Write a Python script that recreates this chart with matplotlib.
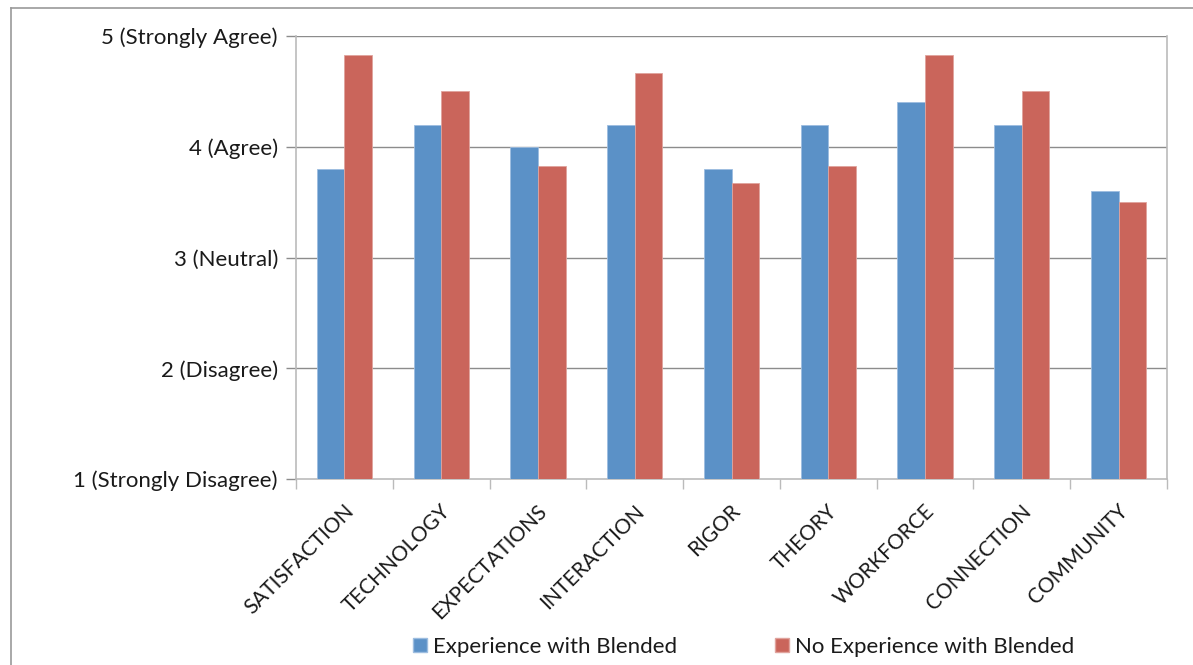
import matplotlib
matplotlib.use("Agg")
import matplotlib.pyplot as plt
import numpy as np
from matplotlib.patches import Patch
from matplotlib.lines import Line2D
from matplotlib.transforms import offset_copy

categories = ["SATISFACTION", "TECHNOLOGY", "EXPECTATIONS", "INTERACTION", "RIGOR",
              "THEORY", "WORKFORCE", "CONNECTION", "COMMUNITY"]
experience = [3.8, 4.2, 4.0, 4.2, 3.8, 4.2, 4.4, 4.2, 3.6]
no_experience = [4.83, 4.5, 3.83, 4.67, 3.67, 3.83, 4.83, 4.5, 3.5]
ytick_values = [1, 2, 3, 4, 5]
ytick_labels = ["1 (Strongly Disagree)", "2 (Disagree)", "3 (Neutral)", "4 (Agree)", "5 (Strongly Agree)"]
series_names = ["Experience with Blended", "No Experience with Blended"]

blue = "#5B91C7"
red = "#CA655B"

plt.rcParams['font.family'] = ['Lato', 'DejaVu Sans']

fig = plt.figure(figsize=(11.93, 6.65), dpi=100)
W, H = 1193, 665
ax = fig.add_axes([296 / W, 1 - 479 / H, (1167 - 296) / W, (479 - 36) / H])

x = np.arange(len(categories))
bw = 0.285
ax.bar(x - bw / 2, experience, width=bw, bottom=0, color=blue, edgecolor="#9DBDE0", linewidth=0.6, zorder=3)
ax.bar(x + bw / 2, no_experience, width=bw, bottom=0, color=red, edgecolor="#E0A39D", linewidth=0.6, zorder=3)

ax.set_xlim(-0.5, len(categories) - 0.5)
ax.set_ylim(1, 5)
ax.set_yticks(ytick_values)
ax.set_yticklabels(ytick_labels, fontsize=16, color="#1A1A1A")
for v in ytick_values[1:]:
    ax.axhline(v, color="#8C8C8C", linewidth=1.0, zorder=1)

ax.set_xticks(np.arange(len(categories) + 1) - 0.5, minor=False)
ax.set_xticklabels([])
ax.tick_params(axis='x', length=7, color="#BBBBBB", width=1)
ax.tick_params(axis='y', length=7, color="#8C8C8C", width=1, pad=6)
base = ax.get_xaxis_transform()
for i, c in enumerate(categories):
    tr = offset_copy(base, fig=fig, x=6, y=-29, units='dots')
    ax.text(i, 0, c, rotation=45, ha='right', va='center', rotation_mode='anchor',
            fontsize=15, color="#1A1A1A", transform=tr)

for s in ['left', 'bottom', 'right']:
    ax.spines[s].set_color("#BBBBBB")
    ax.spines[s].set_linewidth(1.2)
ax.spines['top'].set_visible(False)

handles = [Patch(facecolor=blue, edgecolor="#9DBDE0"), Patch(facecolor=red, edgecolor="#E0A39D")]
fig.legend(handles, series_names, loc='center', bbox_to_anchor=(744 / W, 1 - 647 / H), ncol=2,
           frameon=False, fontsize=16, handlelength=0.6, handleheight=0.6, columnspacing=4.4,
           handletextpad=0.3, labelcolor="#1A1A1A")

# outer chart border (top and left)
fig.add_artist(Line2D([11 / W, 1], [1 - 8 / H, 1 - 8 / H], color="#999999", linewidth=1.2, transform=fig.transFigure))
fig.add_artist(Line2D([11 / W, 11 / W], [0, 1 - 8 / H], color="#999999", linewidth=1.2, transform=fig.transFigure))

fig.savefig("out.png", dpi=100)
